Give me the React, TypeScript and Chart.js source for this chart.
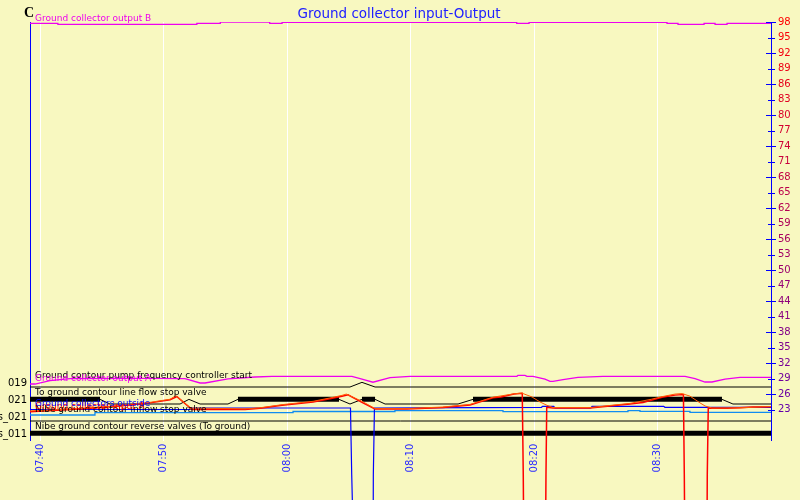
import React, { useEffect, useRef } from "react";
import { Chart, registerables } from "chart.js";

Chart.register(...registerables);

// ---- axis ranges (minutes after 07:00) ----
const X_MIN = 39.19;
const X_MAX = 99.19;
const Y_MIN = 17;
const Y_MAX = 98;

const timeTicks = [40, 50, 60, 70, 80, 90];
const timeTickLabels = ["07:40", "07:50", "08:00", "08:10", "08:20", "08:30"];
const rightTicks = [98, 95, 92, 89, 86, 83, 80, 77, 74, 71, 68, 65, 62, 59, 56, 53, 50, 47, 44, 41, 38, 35, 32, 29, 26, 23];

// ---- analog series ----
const magBTimes = [39.19, 41.45, 52.7, 54.6, 58.6, 59.6, 78.6, 79.6, 90.77, 91.66, 93.77, 94.66, 95.63, 96.68, 99.19];
const magBValues = [97.6, 97.75, 97.55, 97.75, 98.0, 97.75, 97.95, 97.75, 97.95, 97.75, 97.55, 97.75, 97.55, 97.75, 97.75];

const magATimes = [39.19, 39.6, 40.81, 42.43, 48.9, 51.74, 52.96, 53.36, 55.22, 57.41, 58.79, 65.26, 66.07, 66.96, 68.34, 69.96, 78.62, 78.7, 79.27, 79.43, 79.92, 80.89, 81.3, 81.54, 82.35, 83.56, 85.59, 92.23, 93.04, 93.85, 94.41, 95.47, 96.68, 99.19];
const magAValues = [27.95, 27.95, 28.6, 29.0, 29.05, 29.0, 28.15, 28.15, 28.95, 29.31, 29.44, 29.44, 28.9, 28.3, 29.2, 29.44, 29.44, 29.63, 29.63, 29.44, 29.44, 28.9, 28.47, 28.47, 28.8, 29.25, 29.44, 29.44, 29.0, 28.34, 28.34, 28.9, 29.25, 29.25];

const blueTimes = [39.19, 52.1, 52.2, 65.14, 65.24, 65.95, 66.9, 66.99, 67.08, 75.1, 80.6, 80.7, 81.6, 81.7, 84.6, 84.7, 90.5, 90.6, 99.19];
const blueValues = [23.02, 23.02, 23.31, 23.31, 10.4, -60, -60, 10.4, 23.31, 23.37, 23.44, 23.64, 23.64, 23.31, 23.31, 23.64, 23.64, 23.44, 23.44];

const redTimes = [39.19, 43.24, 46.48, 48.91, 50.53, 51.09, 52.31, 56.6, 57.81, 59.6, 62.11, 63.48, 64.45, 64.94, 66.07, 67.13, 69.72, 72.63, 74.82, 76.68, 77.33, 78.38, 79.05, 79.13, 79.35, 80.75, 80.97, 81.03, 81.54, 84.53, 85.75, 86.72, 87.77, 88.83, 90.36, 91.42, 92.1, 92.17, 92.4, 93.9, 94.03, 94.11, 95.63, 96.68, 97.73, 99.19];
const redValues = [22.59, 23.1, 23.7, 24.3, 24.9, 25.5, 23.02, 23.02, 23.25, 23.83, 24.47, 25.1, 25.6, 25.85, 24.4, 23.1, 23.11, 23.4, 23.9, 25.3, 25.44, 26.0, 26.15, 10.4, -60, -60, 10.4, 23.44, 23.31, 23.31, 23.6, 23.83, 24.1, 24.35, 25.38, 25.8, 25.9, 10.4, -60, -60, 10.4, 23.31, 23.25, 23.35, 23.5, 23.55];

const orangeTimes = [39.19, 43.24, 46.48, 48.91, 50.53, 51.0, 52.2, 56.6, 57.81, 59.6, 62.11, 63.48, 64.45, 64.8, 66.07, 67.13, 69.72, 72.63, 74.82, 76.68, 78.38, 79.0, 79.84, 80.49, 81.05, 81.54, 84.53, 85.75, 87.77, 89.5, 90.36, 91.42, 91.98, 92.63, 93.44, 93.85, 94.41, 96.68, 99.19];
const orangeValues = [22.75, 23.2, 23.8, 24.4, 25.0, 25.7, 23.3, 23.15, 23.35, 23.95, 24.6, 25.25, 25.75, 26.0, 24.6, 23.2, 23.2, 23.5, 24.0, 25.4, 26.05, 26.2, 25.44, 24.47, 23.83, 23.4, 23.4, 23.7, 24.2, 25.0, 25.5, 26.0, 26.1, 25.6, 24.3, 23.7, 23.3, 23.35, 23.6];

const lightBlueTimes = [39.19, 44.45, 60.49, 68.74, 77.49, 87.61, 88.58, 92.63, 95.47, 99.19];
const lightBlueValues = [22.24, 21.95, 22.4, 22.63, 22.79, 22.6, 22.79, 22.67, 22.48, 22.48];

const seriesLabels = ["Ground collector input A", "Ground collectors outside", "Ground collector output A", "Ground collector output B"];

// ---- digital tracks ----
const trackNames = [
  "Ground contour pump frequency controller start",
  "To ground contour line flow stop valve",
  "Nibe ground contour inflow stop valve",
  "Nibe ground contour reverse valves (To ground)",
];
const trackCodes = ["019", "021", "s_021", "s_011"];
const trackLows = [27.37, 24.08, 20.79, 17.5];
const TRACK_STEP = 0.9;

const track1Times = [39.19, 65.1, 66.07, 67.13, 99.19];
const track1States = [0, 0, 1, 0, 0];
const track2Times = [39.19, 44.86, 45.67, 51.34, 52.06, 52.96, 55.22, 56.03, 64.21, 65.1, 66.07, 67.13, 67.94, 73.85, 75.06, 95.22, 96.11, 99.19];
const track2States = [1, 1, 0, 0, 1, 0, 0, 1, 1, 0, 1, 1, 0, 0, 1, 1, 0, 0];
const track3Times = [39.19, 99.19];
const track3States = [0, 0];
const track4Times = [39.19, 99.19];
const track4States = [1, 1];

const BG = "#f8f8c0";

const pts = (ts: number[], vs: number[]) => ts.map((t, i) => ({ x: t, y: vs[i] }));

const trackDataset = (ts: number[], st: number[], idx: number, alwaysThick = false) => {
  const low = trackLows[idx];
  return {
    label: trackNames[idx],
    data: ts.map((t, i) => ({ x: t, y: low + st[i] * TRACK_STEP })),
    borderColor: "#000000",
    borderWidth: alwaysThick ? 5 : 1,
    pointRadius: 0,
    tension: 0,
    borderCapStyle: "butt",
    segment: alwaysThick
      ? undefined
      : {
          borderWidth: (c: any) =>
            c.p0.parsed.y > low + TRACK_STEP / 2 && c.p1.parsed.y > low + TRACK_STEP / 2 ? 5 : 1,
        },
  };
};

const tickColor = (v: number) => {
  const f = Math.min(1, Math.max(0, (98 - v) / 75));
  const r = Math.round(255 + (100 - 255) * f);
  const b = Math.round(170 * f);
  return `rgb(${r},0,${b})`;
};

const overlay = {
  id: "overlay",
  beforeDraw(chart: any) {
    const { ctx, width, height } = chart;
    ctx.save();
    ctx.fillStyle = BG;
    ctx.fillRect(0, 0, width, height);
    ctx.restore();
  },
  afterDatasetsDraw(chart: any) {
    const { ctx, chartArea } = chart;
    const ys = chart.scales.y;
    const x0 = chartArea.left + 5;
    ctx.save();
    ctx.font = "9px 'DejaVu Sans'";
    ctx.textAlign = "left";
    ctx.textBaseline = "middle";
    trackNames.forEach((name, i) => {
      ctx.fillStyle = "#000000";
      ctx.fillText(name, x0, ys.getPixelForValue(trackLows[i]) - 11.3);
    });
    const analog = [
      { text: seriesLabels[0], color: "#ff0000", v: redValues[0] },
      { text: seriesLabels[1], color: "#0000ff", v: blueValues[0] },
      { text: seriesLabels[2], color: "#ee00ee", v: magAValues[0] },
      { text: seriesLabels[3], color: "#ee00ee", v: magBValues[0] },
    ];
    analog.forEach((a) => {
      ctx.fillStyle = a.color;
      ctx.fillText(a.text, x0, ys.getPixelForValue(a.v) - 5.5);
    });
    ctx.restore();
  },
  afterDraw(chart: any) {
    const { ctx, chartArea } = chart;
    const ys = chart.scales.y;
    ctx.save();
    ctx.strokeStyle = "#0000ff";
    ctx.lineWidth = 1;
    rightTicks.forEach((v, i) => {
      const y = Math.round(ys.getPixelForValue(v)) + 0.5;
      const long = i % 2 === 0;
      ctx.beginPath();
      ctx.moveTo(chartArea.right - (long ? 5 : 3), y);
      ctx.lineTo(chartArea.right + (long ? 5 : 4), y);
      ctx.stroke();
    });
    ctx.fillStyle = "#2020ff";
    ctx.font = "13.5px 'DejaVu Sans'";
    ctx.textAlign = "center";
    ctx.textBaseline = "middle";
    ctx.fillText("Ground collector input-Output", 399, 14);
    ctx.fillStyle = "#000000";
    ctx.font = "bold 14px 'Liberation Serif'";
    ctx.textAlign = "left";
    ctx.textBaseline = "alphabetic";
    ctx.fillText("C", 24, 17);
    ctx.restore();
  },
};

export default function App() {
  const ref = useRef<HTMLCanvasElement>(null);
  useEffect(() => {
    const datasets: any[] = [
      { label: "orange", data: pts(orangeTimes, orangeValues), borderColor: "#ff5a00", borderWidth: 1, pointRadius: 0, tension: 0 },
      { label: seriesLabels[0], data: pts(redTimes, redValues), borderColor: "#ff0000", borderWidth: 1.5, pointRadius: 0, tension: 0, clip: false },
      { label: seriesLabels[1], data: pts(blueTimes, blueValues), borderColor: "#0000ff", borderWidth: 1.2, pointRadius: 0, tension: 0, clip: false },
      { label: "lightblue", data: pts(lightBlueTimes, lightBlueValues), borderColor: "#108cf0", borderWidth: 1.3, pointRadius: 0, stepped: "after" },
      { label: seriesLabels[2], data: pts(magATimes, magAValues), borderColor: "#ee00ee", borderWidth: 1.3, pointRadius: 0, tension: 0 },
      { label: seriesLabels[3], data: pts(magBTimes, magBValues), borderColor: "#ee00ee", borderWidth: 1.3, pointRadius: 0, stepped: "after" },
      trackDataset(track1Times, track1States, 0),
      trackDataset(track2Times, track2States, 1),
      trackDataset(track3Times, track3States, 2),
      trackDataset(track4Times, track4States, 3, true),
    ];
    const chart = new Chart(ref.current as HTMLCanvasElement, {
      type: "line",
      data: { datasets },
      options: {
        animation: false,
        responsive: false,
        devicePixelRatio: 1,
        layout: { padding: { top: 22, left: 0, right: 0, bottom: 0 } },
        plugins: { legend: { display: false }, title: { display: false }, tooltip: { enabled: false } },
        scales: {
          x: {
            type: "linear",
            min: X_MIN,
            max: X_MAX,
            afterBuildTicks: (s: any) => {
              s.ticks = timeTicks.map((v) => ({ value: v }));
            },
            afterFit: (s: any) => {
              s.height = 59.4;
            },
            ticks: {
              autoSkip: false,
              maxRotation: 90,
              minRotation: 90,
              padding: 3,
              color: "#2a2aff",
              font: { family: "DejaVu Sans", size: 10 },
              callback: (v: any) => {
                const i = timeTicks.indexOf(Number(v));
                return i >= 0 ? timeTickLabels[i] : "";
              },
            },
            grid: { color: "#ffffff", lineWidth: 1, drawTicks: false },
            border: { display: false },
          },
          y: {
            type: "linear",
            position: "right",
            min: Y_MIN,
            max: Y_MAX,
            afterBuildTicks: (s: any) => {
              s.ticks = rightTicks.map((v) => ({ value: v }));
            },
            afterFit: (s: any) => {
              s.width = 29;
            },
            ticks: {
              autoSkip: false,
              padding: 7,
              font: { family: "DejaVu Sans", size: 10 },
              color: (c: any) => tickColor(c.tick ? c.tick.value : 98),
              callback: (v: any) => String(v),
            },
            grid: { display: true, drawOnChartArea: false, drawTicks: false },
            border: { color: "#0000ff", width: 1 },
          },
          yL: {
            type: "linear",
            position: "left",
            min: Y_MIN,
            max: Y_MAX,
            afterBuildTicks: (s: any) => {
              s.ticks = trackLows.map((v) => ({ value: v + 0.63 }));
            },
            afterFit: (s: any) => {
              s.width = 30;
            },
            ticks: {
              autoSkip: false,
              padding: 3,
              color: "#000000",
              font: { family: "DejaVu Sans", size: 10 },
              callback: (v: any) => {
                const i = trackLows.findIndex((l) => Math.abs(l + 0.63 - Number(v)) < 0.01);
                return i >= 0 ? trackCodes[i] : "";
              },
            },
            grid: { display: true, drawOnChartArea: false, drawTicks: false },
            border: { color: "#0000ff", width: 1 },
          },
        },
      } as any,
      plugins: [overlay],
    });
    return () => chart.destroy();
  }, []);
  return (
    <div style={{ position: "fixed", left: 0, top: 0, width: 800, height: 500 }}>
      <canvas ref={ref} width={800} height={500} style={{ display: "block", width: 800, height: 500 }} />
    </div>
  );
}
